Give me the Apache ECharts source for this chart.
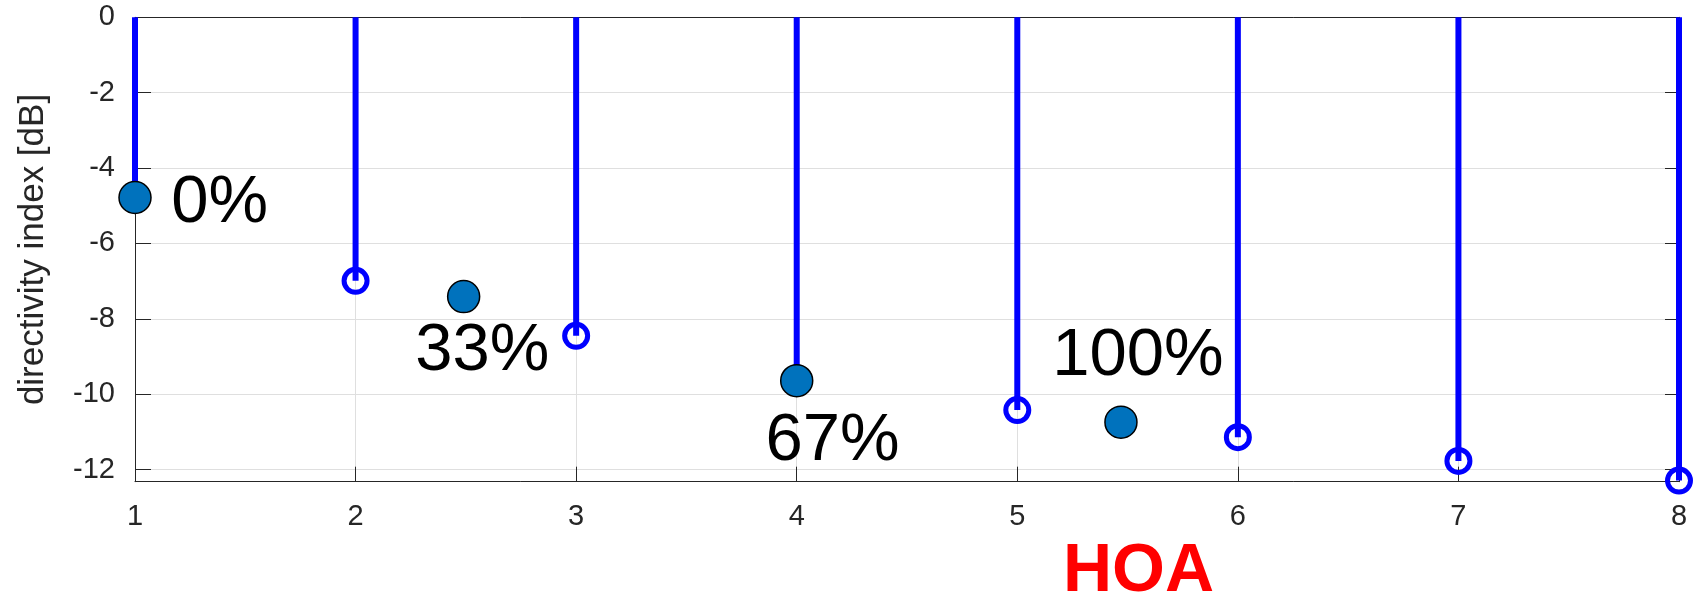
<!DOCTYPE html>
<html>
<head>
<meta charset="utf-8">
<script src="https://cdn.jsdelivr.net/npm/echarts@6/dist/echarts.min.js"></script>
<style>
  html, body { margin: 0; padding: 0; background: #ffffff; }
  #chart { width: 1698px; height: 603px; }
</style>
</head>
<body>
<div id="chart"></div>
<script>
// ---- data ----
const stemX = [1, 2, 3, 4, 5, 6, 7, 8];
const stemY = [-4.78, -6.99, -8.45, -9.64, -10.42, -11.14, -11.77, -12.29];

const pointX = [1, 2.49, 4, 5.47];
const pointY = [-4.78, -7.41, -9.64, -10.74];

const labelText = ['0%', '33%', '67%', '100%'];
const labelX = [1.384, 2.574, 4.162, 5.547];
const labelY = [-4.95, -8.87, -11.26, -9.0];

const yTicks = [0, -2, -4, -6, -8, -10, -12];
const xTicks = [1, 2, 3, 4, 5, 6, 7, 8];
const xTitle = 'HOA';
const yTitle = 'directivity index [dB]';

const FONT = '"Liberation Sans", Arial, Helvetica, sans-serif';
const AXIS_COLOR = '#262626';
const GRID_COLOR = '#dfdfdf';

const stemData = stemX.map((x, i) => [x, stemY[i]]);
const pointData = pointX.map((x, i) => [x, pointY[i]]);
const labelData = labelText.map((t, i) => ({ name: t, value: [labelX[i], labelY[i]] }));

const chart = echarts.init(document.getElementById('chart'), null, { renderer: 'canvas' });

const option = {
  backgroundColor: '#ffffff',
  animation: false,
  grid: { left: 135, right: 19, top: 17.3, bottom: 121.3, containLabel: false, outerBoundsMode: 'none' },
  xAxis: [
    {
      type: 'value', min: 1, max: 8, interval: 1,
      axisLine: { show: true, onZero: false, lineStyle: { color: AXIS_COLOR, width: 1 } },
      axisTick: { show: true, inside: true, length: 15, lineStyle: { color: AXIS_COLOR, width: 1 } },
      axisLabel: {
        show: true, margin: 21, color: AXIS_COLOR, fontSize: 29, fontFamily: FONT,
        formatter: v => (xTicks.indexOf(v) >= 0 ? String(v) : '')
      },
      splitLine: { show: true, lineStyle: { color: GRID_COLOR, width: 1 } }
    },
    {
      type: 'value', min: 1, max: 8, interval: 1, position: 'top',
      axisLine: { show: true, onZero: false, lineStyle: { color: AXIS_COLOR, width: 1 } },
      axisTick: { show: true, inside: true, length: 14, lineStyle: { color: AXIS_COLOR, width: 1 } },
      axisLabel: { show: false },
      splitLine: { show: false }
    }
  ],
  yAxis: [
    {
      type: 'value', min: -12.32, max: 0, splitNumber: 6,
      name: yTitle, nameLocation: 'middle', nameGap: 84, nameRotate: 90,
      nameTextStyle: { color: AXIS_COLOR, fontSize: 35, fontFamily: FONT },
      axisLine: { show: true, onZero: false, lineStyle: { color: AXIS_COLOR, width: 1 } },
      axisTick: { show: true, inside: true, length: 16, lineStyle: { color: AXIS_COLOR, width: 1 } },
      axisLabel: {
        show: true, margin: 20, color: AXIS_COLOR, fontSize: 29, fontFamily: FONT,
        formatter: v => (yTicks.some(t => Math.abs(t - v) < 1e-6) ? String(Math.round(v)) : '')
      },
      splitLine: { show: true, lineStyle: { color: GRID_COLOR, width: 1 } }
    },
    {
      type: 'value', min: -12.32, max: 0, splitNumber: 6, position: 'right',
      axisLine: { show: true, onZero: false, lineStyle: { color: AXIS_COLOR, width: 1 } },
      axisTick: { show: true, inside: true, length: 14, lineStyle: { color: AXIS_COLOR, width: 1 } },
      axisLabel: { show: false },
      splitLine: { show: false }
    }
  ],
  series: [
    {
      name: 'stems',
      type: 'custom',
      xAxisIndex: 0, yAxisIndex: 0,
      z: 3,
      data: stemData,
      renderItem: function (params, api) {
        const x = api.value(0), y = api.value(1);
        const p0 = api.coord([x, 0]);
        const p1 = api.coord([x, y]);
        return {
          type: 'line',
          shape: { x1: p0[0], y1: p0[1], x2: p1[0], y2: p1[1] },
          style: { stroke: '#0000ff', lineWidth: 6 }
        };
      },
      silent: true
    },
    {
      name: 'stem markers',
      type: 'scatter',
      xAxisIndex: 0, yAxisIndex: 0,
      z: 4,
      clip: false,
      data: stemData,
      symbol: 'circle',
      symbolSize: 23,
      itemStyle: { color: 'rgba(255,255,255,0)', borderColor: '#0000ff', borderWidth: 5, opacity: 1 },
      emphasis: { disabled: true },
      silent: true
    },
    {
      name: 'points',
      type: 'scatter',
      xAxisIndex: 0, yAxisIndex: 0,
      z: 5,
      clip: false,
      data: pointData,
      symbol: 'circle',
      symbolSize: 32,
      itemStyle: { color: '#0072bd', borderColor: '#000000', borderWidth: 1.5, opacity: 1 },
      emphasis: { disabled: true },
      silent: true
    },
    {
      name: 'labels',
      type: 'scatter',
      xAxisIndex: 0, yAxisIndex: 0,
      z: 6,
      clip: false,
      data: labelData,
      symbol: 'circle',
      symbolSize: 0,
      itemStyle: { color: 'rgba(0,0,0,0)', opacity: 1 },
      label: {
        show: true, position: 'inside', formatter: '{b}',
        color: '#000000', fontSize: 67, fontFamily: FONT, opacity: 1,
        align: 'center', verticalAlign: 'middle'
      },
      emphasis: { disabled: true },
      silent: true
    }
  ],
  graphic: [
    {
      type: 'text',
      x: 1138.5,
      y: 572,
      style: {
        text: xTitle,
        fill: '#ff0000',
        font: 'bold 68px ' + FONT,
        align: 'center',
        verticalAlign: 'middle'
      }
    }
  ]
};

chart.setOption(option);
</script>
</body>
</html>
